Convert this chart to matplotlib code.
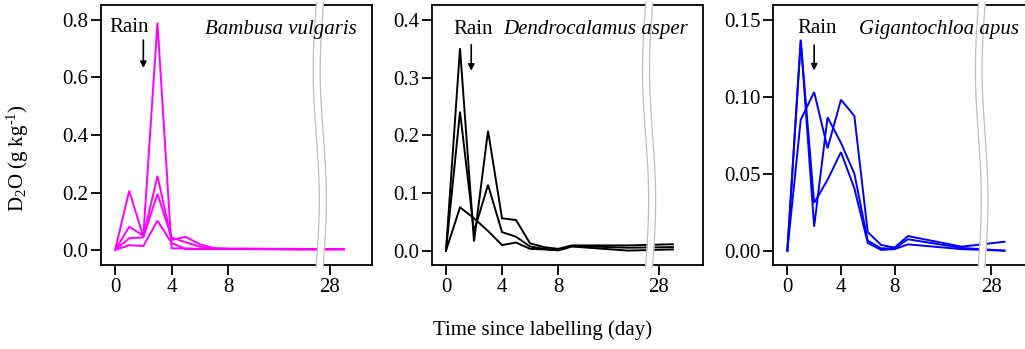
import numpy as np
import matplotlib
matplotlib.use("Agg")
import matplotlib.pyplot as plt
import matplotlib.transforms as mtransforms

plt.rcParams['font.family'] = ['Liberation Serif', 'DejaVu Serif']
plt.rcParams['mathtext.fontset'] = 'custom'
plt.rcParams['mathtext.rm'] = 'Liberation Serif'
plt.rcParams['mathtext.it'] = 'Liberation Serif:italic'

# sampling days (axis is broken between day 13 and day 28)
days = [0, 1, 2, 3, 4, 5, 6, 7, 8, 9, 13, 29]
day_ticks = [0, 4, 8, 28]
GAP = 12.8      # days removed from the axis by the break
BREAK_AT = 14.5  # axis position of the break mark

# D2O (g kg-1), one list per labelled culm
bambusa = [
    [0, 0.206, 0.046, 0.258, 0.035, 0.046, 0.020, 0.007, 0.005, 0.005, 0.004, 0.004],
    [0, 0.081, 0.050, 0.790, 0.006, 0.006, 0.004, 0.004, 0.004, 0.004, 0.003, 0.003],
    [0, 0.041, 0.044, 0.195, 0.044, 0.027, 0.012, 0.005, 0.004, 0.004, 0.003, 0.003],
    [0, 0.017, 0.014, 0.102, 0.025, 0.003, 0.003, 0.003, 0.003, 0.003, 0.002, 0.002],
]
dendro = [
    [0, 0.351, 0.016, 0.208, 0.056, 0.053, 0.0125, 0.006, 0.003, 0.009, 0.009, 0.011],
    [0, 0.241, 0.033, 0.114, 0.032, 0.024, 0.007, 0.003, 0.0005, 0.008, 0.005, 0.006],
    [0, 0.075, 0.056, 0.034, 0.0095, 0.014, 0.003, 0.002, 0.0005, 0.007, 0.000, 0.002],
]
giganto = [
    [0, 0.137, 0.0156, 0.0866, 0.070, 0.050, 0.0065, 0.0015, 0.0015, 0.0074, 0.0018, 0.0],
    [0, 0.136, 0.031, 0.046, 0.064, 0.0405, 0.005, 0.0005, 0.001, 0.0041, 0.001, 0.0],
    [0, 0.085, 0.103, 0.0665, 0.098, 0.0875, 0.012, 0.0037, 0.002, 0.0095, 0.0026, 0.0058],
]


def to_axis(d):
    d = np.asarray(d, dtype=float)
    return np.where(d > BREAK_AT, d - GAP, d)


panels = [
    dict(data=bambusa, color='#ff00ff', name='Bambusa vulgaris', name_x=0.945,
         ylim=(-0.052, 0.852), yticks=[0.0, 0.2, 0.4, 0.6, 0.8], fmt='{:.1f}',
         xlim=(-1.0, 18.2), rain_text=(1.0, 0.775), rain_arrow=(2, 0.73, 0.633)),
    dict(data=dendro, color='black', name='Dendrocalamus asper', name_x=0.945,
         ylim=(-0.025, 0.426), yticks=[0.0, 0.1, 0.2, 0.3, 0.4], fmt='{:.1f}',
         xlim=(-1.0, 18.35), rain_text=(1.95, 0.384), rain_arrow=(1.8, 0.357, 0.312)),
    dict(data=giganto, color='#0000ff', name='Gigantochloa apus', name_x=0.908,
         ylim=(-0.0093, 0.1595), yticks=[0.0, 0.05, 0.10, 0.15], fmt='{:.2f}',
         xlim=(-1.07, 19.15), rain_text=(2.2, 0.1445), rain_arrow=(2, 0.1335, 0.117)),
]

fig = plt.figure(figsize=(10.25, 3.49), dpi=100)
lefts = [101 / 1025, 432 / 1025, 773 / 1025]
w, b, h = 271 / 1025, 84 / 349, 260 / 349

for left, p in zip(lefts, panels):
    ax = fig.add_axes([left, b, w, h])
    x = to_axis(days)
    for series in p['data']:
        ax.plot(x, series, color=p['color'], lw=1.4, solid_joinstyle='miter')

    ax.set_xlim(*p['xlim'])
    ax.set_ylim(*p['ylim'])
    ax.set_xticks(to_axis(day_ticks))
    ax.set_xticklabels([str(t) for t in day_ticks])
    ax.set_yticks(p['yticks'])
    ax.set_yticklabels([p['fmt'].format(v) for v in p['yticks']])
    ax.tick_params(direction='out', length=7, width=1.3, labelsize=15, pad=2)
    for s in ax.spines.values():
        s.set_linewidth(1.3)

    # wavy break mark across the frame
    trans = mtransforms.blended_transform_factory(ax.transData, ax.transAxes)
    t = np.linspace(-0.01, 1.01, 200)
    xc = BREAK_AT - 0.22 * np.sin(2 * np.pi * (1 - t))
    ax.fill_betweenx(t, xc - 0.25, xc + 0.25, color='white', transform=trans,
                     zorder=5, clip_on=False, lw=0)
    ax.plot(xc - 0.25, t, color='#c0c0c0', lw=0.9, transform=trans, zorder=6, clip_on=False)
    ax.plot(xc + 0.25, t, color='#c0c0c0', lw=0.9, transform=trans, zorder=6, clip_on=False)

    tx, ty = p['rain_text']
    ax.text(tx, ty, 'Rain', fontsize=15, ha='center', va='center', zorder=10)
    axx, y0, y1 = p['rain_arrow']
    ax.annotate('', xy=(axx, y1), xytext=(axx, y0),
                arrowprops=dict(arrowstyle='-|>', color='black', lw=1.2,
                                mutation_scale=9, shrinkA=0, shrinkB=0))
    ax.text(p['name_x'], 0.905, p['name'], fontsize=15, style='italic',
            ha='right', va='center', transform=ax.transAxes, zorder=10)

fig.text(0.017, 0.547, r'D$_2$O (g kg$^{\text{-1}}$)', rotation=90, fontsize=15,
         ha='center', va='center')
fig.text(0.529, 0.054, 'Time since labelling (day)', fontsize=15,
         ha='center', va='center')

fig.savefig('out.png', dpi=100)
